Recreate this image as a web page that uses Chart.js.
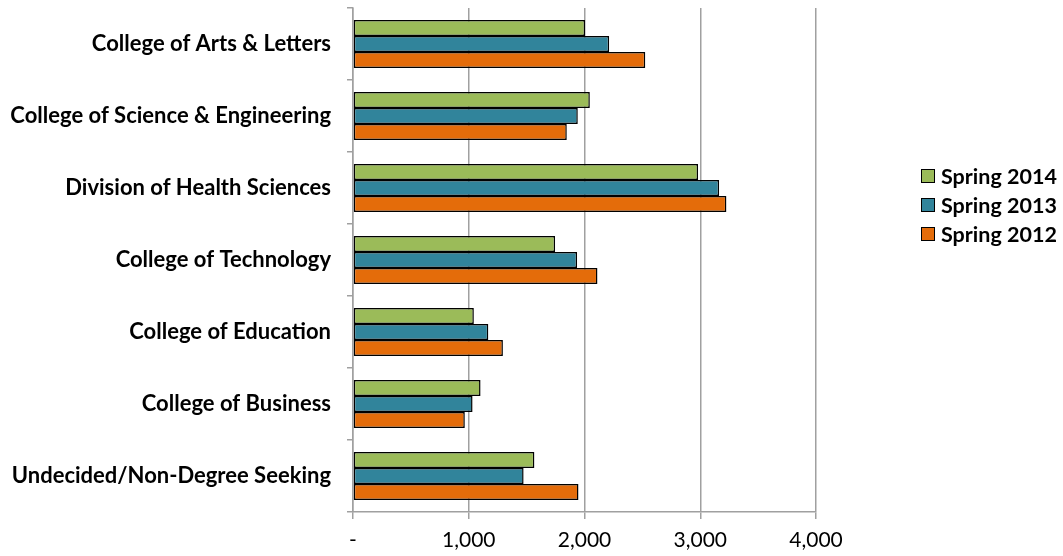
<!DOCTYPE html>
<html>
<head>
<meta charset="utf-8">
<script src="https://cdn.jsdelivr.net/npm/chart.js@4"></script>
<style>
  html, body { margin: 0; padding: 0; background: #fff; }
  #wrap { position: relative; width: 1063px; height: 556px; }
  #legend { position: absolute; left: 921px; top: 161px; font-family: Lato, "Liberation Sans", sans-serif; font-weight: 700; font-size: 21.5px; color: #000; }
  #legend .item { display: flex; align-items: center; height: 29px; }
  #legend .box { width: 12px; height: 12px; border: 1px solid #000; margin-right: 6px; }
</style>
</head>
<body>
<div id="wrap">
  <canvas id="c" width="1063" height="556"></canvas>
  <div id="legend"></div>
</div>
<script>
// Enrollment by college, three spring terms
const categories = [
  'College of Arts & Letters',
  'College of Science & Engineering',
  'Division of Health Sciences',
  'College of Technology',
  'College of Education',
  'College of Business',
  'Undecided/Non-Degree Seeking'
];
const seriesNames = ['Spring 2014', 'Spring 2013', 'Spring 2012'];
const spring2014 = [2005, 2046, 2981, 1746, 1044, 1102, 1567];
const spring2013 = [2213, 1942, 3163, 1936, 1169, 1033, 1474];
const spring2012 = [2525, 1847, 3226, 2112, 1295, 966, 1948];
const xTicks = [0, 1000, 2000, 3000, 4000];
const seriesColors = ['#9BBB59', '#31849B', '#E46C0A'];

const FONT = 'Lato, "Liberation Sans", sans-serif';
const values = [spring2014, spring2013, spring2012];

const datasets = seriesNames.map((name, i) => ({
  label: name,
  data: values[i],
  backgroundColor: seriesColors[i],
  borderColor: '#000',
  borderWidth: 1.5,
  borderSkipped: false,
  categoryPercentage: 0.667,
  barPercentage: 1.0
}));

new Chart(document.getElementById('c'), {
  type: 'bar',
  data: { labels: categories, datasets },
  options: {
    indexAxis: 'y',
    responsive: false,
    animation: false,
    layout: { autoPadding: false, padding: { top: 8, right: 247, left: 0, bottom: 0 } },
    plugins: { legend: { display: false }, tooltip: { enabled: false } },
    scales: {
      x: {
        min: 0, max: 4000,
        afterBuildTicks: (s) => { s.ticks = xTicks.map(v => ({ value: v })); },
        afterFit: (s) => { s.height = 44; s.paddingLeft = 0; s.paddingRight = 0; },
        grid: { color: '#a0a0a0', lineWidth: 1.5, tickLength: 7, drawTicks: true },
        border: { color: '#a0a0a0', width: 1.5 },
        ticks: {
          color: '#000',
          font: { family: FONT, size: 21 },
          padding: 9,
          callback: (v) => v === 0 ? '-' : v.toLocaleString('en-US')
        }
      },
      y: {
        afterFit: (s) => { s.width = 353; s.paddingTop = 0; s.paddingBottom = 0; },
        grid: { drawOnChartArea: false, color: '#a0a0a0', lineWidth: 1.5, tickLength: 6, offset: true },
        border: { color: '#a0a0a0', width: 1.5 },
        ticks: {
          color: '#000',
          font: { family: FONT, size: 22, weight: 'bold' },
          padding: 16
        }
      }
    }
  }
});

// Legend built from the series arrays
const legend = document.getElementById('legend');
seriesNames.forEach((name, i) => {
  const item = document.createElement('div');
  item.className = 'item';
  const box = document.createElement('span');
  box.className = 'box';
  box.style.background = seriesColors[i];
  const label = document.createElement('span');
  label.textContent = name;
  item.appendChild(box);
  item.appendChild(label);
  legend.appendChild(item);
});
</script>
</body>
</html>
